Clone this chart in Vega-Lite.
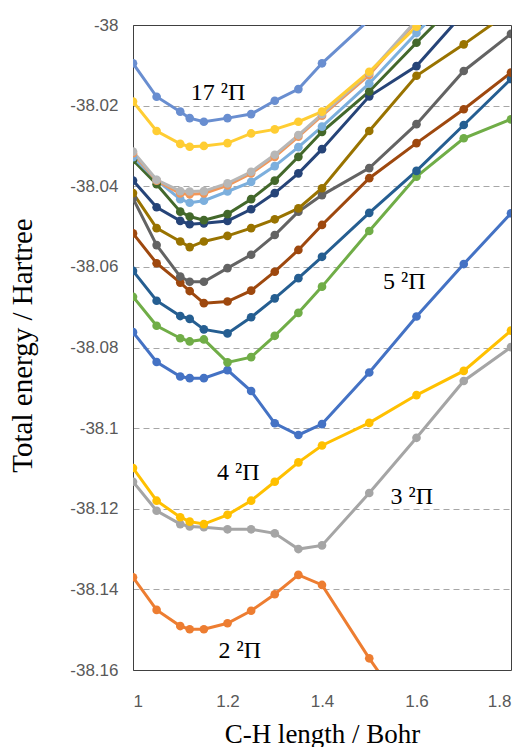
{
  "$schema": "https://vega.github.io/schema/vega-lite/v6.json",
  "width": 378,
  "height": 645,
  "autosize": {"type": "none"},
  "padding": {"left": 133, "top": 25, "right": 17, "bottom": 77},
  "background": "white",
  "config": {"view": {"stroke": "#404040", "strokeWidth": 1}},
  "datasets": {
    "curves": [
      {"s":"2","x":1,"y":-38.137},{"s":"2","x":1.05,"y":-38.1451},{"s":"2","x":1.1,"y":-38.1491},{"s":"2","x":1.12,"y":-38.1499},{"s":"2","x":1.15,"y":-38.1499},{"s":"2","x":1.2,"y":-38.1484},{"s":"2","x":1.25,"y":-38.1453},{"s":"2","x":1.3,"y":-38.1412},{"s":"2","x":1.35,"y":-38.1364},{"s":"2","x":1.4,"y":-38.1389},{"s":"2","x":1.5,"y":-38.1571},{"s":"2","x":1.6,"y":-38.174},
      {"s":"3","x":1,"y":-38.1133},{"s":"3","x":1.05,"y":-38.1205},{"s":"3","x":1.1,"y":-38.1238},{"s":"3","x":1.12,"y":-38.1244},{"s":"3","x":1.15,"y":-38.1246},{"s":"3","x":1.2,"y":-38.1251},{"s":"3","x":1.25,"y":-38.1251},{"s":"3","x":1.3,"y":-38.1261},{"s":"3","x":1.35,"y":-38.13},{"s":"3","x":1.4,"y":-38.1291},{"s":"3","x":1.5,"y":-38.1161},{"s":"3","x":1.6,"y":-38.1024},{"s":"3","x":1.7,"y":-38.0883},{"s":"3","x":1.8,"y":-38.0799},
      {"s":"4","x":1,"y":-38.1099},{"s":"4","x":1.05,"y":-38.118},{"s":"4","x":1.1,"y":-38.1221},{"s":"4","x":1.12,"y":-38.1232},{"s":"4","x":1.15,"y":-38.1238},{"s":"4","x":1.2,"y":-38.1215},{"s":"4","x":1.25,"y":-38.118},{"s":"4","x":1.3,"y":-38.1133},{"s":"4","x":1.35,"y":-38.1085},{"s":"4","x":1.4,"y":-38.1043},{"s":"4","x":1.5,"y":-38.0987},{"s":"4","x":1.6,"y":-38.0918},{"s":"4","x":1.7,"y":-38.0858},{"s":"4","x":1.8,"y":-38.0758},
      {"s":"5","x":1,"y":-38.0762},{"s":"5","x":1.05,"y":-38.0836},{"s":"5","x":1.1,"y":-38.0872},{"s":"5","x":1.12,"y":-38.0876},{"s":"5","x":1.15,"y":-38.0876},{"s":"5","x":1.2,"y":-38.0856},{"s":"5","x":1.25,"y":-38.0908},{"s":"5","x":1.3,"y":-38.0988},{"s":"5","x":1.35,"y":-38.1017},{"s":"5","x":1.4,"y":-38.099},{"s":"5","x":1.5,"y":-38.0862},{"s":"5","x":1.6,"y":-38.0723},{"s":"5","x":1.7,"y":-38.0593},{"s":"5","x":1.8,"y":-38.0467},
      {"s":"6","x":1,"y":-38.0674},{"s":"6","x":1.05,"y":-38.0746},{"s":"6","x":1.1,"y":-38.0777},{"s":"6","x":1.12,"y":-38.0785},{"s":"6","x":1.15,"y":-38.078},{"s":"6","x":1.2,"y":-38.0837},{"s":"6","x":1.25,"y":-38.0824},{"s":"6","x":1.3,"y":-38.0771},{"s":"6","x":1.35,"y":-38.0714},{"s":"6","x":1.4,"y":-38.0649},{"s":"6","x":1.5,"y":-38.0511},{"s":"6","x":1.6,"y":-38.0376},{"s":"6","x":1.7,"y":-38.0281},{"s":"6","x":1.8,"y":-38.0234},
      {"s":"7","x":1,"y":-38.061},{"s":"7","x":1.05,"y":-38.0684},{"s":"7","x":1.1,"y":-38.0722},{"s":"7","x":1.12,"y":-38.0729},{"s":"7","x":1.15,"y":-38.0755},{"s":"7","x":1.2,"y":-38.0765},{"s":"7","x":1.25,"y":-38.0725},{"s":"7","x":1.3,"y":-38.0678},{"s":"7","x":1.35,"y":-38.0628},{"s":"7","x":1.4,"y":-38.0575},{"s":"7","x":1.5,"y":-38.0466},{"s":"7","x":1.6,"y":-38.0362},{"s":"7","x":1.7,"y":-38.0248},{"s":"7","x":1.8,"y":-38.0134},
      {"s":"8","x":1,"y":-38.0517},{"s":"8","x":1.05,"y":-38.0591},{"s":"8","x":1.1,"y":-38.0639},{"s":"8","x":1.12,"y":-38.066},{"s":"8","x":1.15,"y":-38.069},{"s":"8","x":1.2,"y":-38.0686},{"s":"8","x":1.25,"y":-38.0659},{"s":"8","x":1.3,"y":-38.0612},{"s":"8","x":1.35,"y":-38.0558},{"s":"8","x":1.4,"y":-38.0496},{"s":"8","x":1.5,"y":-38.038},{"s":"8","x":1.6,"y":-38.0293},{"s":"8","x":1.7,"y":-38.0209},{"s":"8","x":1.8,"y":-38.0118},
      {"s":"9","x":1,"y":-38.043},{"s":"9","x":1.05,"y":-38.0546},{"s":"9","x":1.1,"y":-38.0624},{"s":"9","x":1.12,"y":-38.0637},{"s":"9","x":1.15,"y":-38.0637},{"s":"9","x":1.2,"y":-38.0603},{"s":"9","x":1.25,"y":-38.057},{"s":"9","x":1.3,"y":-38.0521},{"s":"9","x":1.35,"y":-38.0463},{"s":"9","x":1.4,"y":-38.0422},{"s":"9","x":1.5,"y":-38.0355},{"s":"9","x":1.6,"y":-38.0246},{"s":"9","x":1.7,"y":-38.0114},{"s":"9","x":1.8,"y":-38.0022},
      {"s":"10","x":1,"y":-38.0417},{"s":"10","x":1.05,"y":-38.0504},{"s":"10","x":1.1,"y":-38.0537},{"s":"10","x":1.12,"y":-38.0551},{"s":"10","x":1.15,"y":-38.0537},{"s":"10","x":1.2,"y":-38.0523},{"s":"10","x":1.25,"y":-38.0504},{"s":"10","x":1.3,"y":-38.0482},{"s":"10","x":1.35,"y":-38.0455},{"s":"10","x":1.4,"y":-38.0405},{"s":"10","x":1.5,"y":-38.0263},{"s":"10","x":1.6,"y":-38.0126},{"s":"10","x":1.7,"y":-38.0048},{"s":"10","x":1.8,"y":-37.9965},
      {"s":"11","x":1,"y":-38.0386},{"s":"11","x":1.05,"y":-38.0452},{"s":"11","x":1.1,"y":-38.0486},{"s":"11","x":1.12,"y":-38.0494},{"s":"11","x":1.15,"y":-38.0492},{"s":"11","x":1.2,"y":-38.0486},{"s":"11","x":1.25,"y":-38.0457},{"s":"11","x":1.3,"y":-38.0417},{"s":"11","x":1.35,"y":-38.0368},{"s":"11","x":1.4,"y":-38.0308},{"s":"11","x":1.5,"y":-38.0177},{"s":"11","x":1.6,"y":-38.0102},{"s":"11","x":1.7,"y":-37.997},
      {"s":"12","x":1,"y":-38.0335},{"s":"12","x":1.05,"y":-38.0395},{"s":"12","x":1.1,"y":-38.0463},{"s":"12","x":1.12,"y":-38.0475},{"s":"12","x":1.15,"y":-38.0484},{"s":"12","x":1.2,"y":-38.0469},{"s":"12","x":1.25,"y":-38.0432},{"s":"12","x":1.3,"y":-38.0386},{"s":"12","x":1.35,"y":-38.0327},{"s":"12","x":1.4,"y":-38.0265},{"s":"12","x":1.5,"y":-38.0165},{"s":"12","x":1.6,"y":-38.0044},{"s":"12","x":1.7,"y":-37.9926},
      {"s":"13","x":1,"y":-38.0328},{"s":"13","x":1.05,"y":-38.0385},{"s":"13","x":1.1,"y":-38.0432},{"s":"13","x":1.12,"y":-38.0441},{"s":"13","x":1.15,"y":-38.0436},{"s":"13","x":1.2,"y":-38.0413},{"s":"13","x":1.25,"y":-38.0389},{"s":"13","x":1.3,"y":-38.035},{"s":"13","x":1.35,"y":-38.0303},{"s":"13","x":1.4,"y":-38.0252},{"s":"13","x":1.5,"y":-38.0145},{"s":"13","x":1.6,"y":-38.002},{"s":"13","x":1.7,"y":-37.99},
      {"s":"14","x":1,"y":-38.0318},{"s":"14","x":1.05,"y":-38.0386},{"s":"14","x":1.1,"y":-38.0418},{"s":"14","x":1.12,"y":-38.042},{"s":"14","x":1.15,"y":-38.0418},{"s":"14","x":1.2,"y":-38.0398},{"s":"14","x":1.25,"y":-38.0368},{"s":"14","x":1.3,"y":-38.0327},{"s":"14","x":1.35,"y":-38.0277},{"s":"14","x":1.4,"y":-38.0225},{"s":"14","x":1.5,"y":-38.0124},{"s":"14","x":1.6,"y":-37.999},
      {"s":"15","x":1,"y":-38.0314},{"s":"15","x":1.05,"y":-38.0384},{"s":"15","x":1.1,"y":-38.0412},{"s":"15","x":1.12,"y":-38.0413},{"s":"15","x":1.15,"y":-38.0412},{"s":"15","x":1.2,"y":-38.0393},{"s":"15","x":1.25,"y":-38.0364},{"s":"15","x":1.3,"y":-38.0322},{"s":"15","x":1.35,"y":-38.0273},{"s":"15","x":1.4,"y":-38.0221},{"s":"15","x":1.5,"y":-38.0119},{"s":"15","x":1.6,"y":-37.9988},
      {"s":"16","x":1,"y":-38.019},{"s":"16","x":1.05,"y":-38.0263},{"s":"16","x":1.1,"y":-38.0295},{"s":"16","x":1.12,"y":-38.0302},{"s":"16","x":1.15,"y":-38.03},{"s":"16","x":1.2,"y":-38.0293},{"s":"16","x":1.25,"y":-38.0269},{"s":"16","x":1.3,"y":-38.0259},{"s":"16","x":1.35,"y":-38.024},{"s":"16","x":1.4,"y":-38.0215},{"s":"16","x":1.5,"y":-38.0116},{"s":"16","x":1.6,"y":-38.0004},
      {"s":"17","x":1,"y":-38.0095},{"s":"17","x":1.05,"y":-38.0178},{"s":"17","x":1.1,"y":-38.0215},{"s":"17","x":1.12,"y":-38.0231},{"s":"17","x":1.15,"y":-38.024},{"s":"17","x":1.2,"y":-38.0231},{"s":"17","x":1.25,"y":-38.0221},{"s":"17","x":1.3,"y":-38.0188},{"s":"17","x":1.35,"y":-38.0159},{"s":"17","x":1.4,"y":-38.0095},{"s":"17","x":1.5,"y":-37.9987}
    ],
    "labels": [
      {"x":1.18,"y":-38.0169,"t":"17 ²Π"},
      {"x":1.574,"y":-38.0637,"t":"5 ²Π"},
      {"x":1.223,"y":-38.1111,"t":"4 ²Π"},
      {"x":1.59,"y":-38.117,"t":"3 ²Π"},
      {"x":1.226,"y":-38.1553,"t":"2 ²Π"}
    ]
  },
  "encoding": {
    "x": {
      "field": "x", "type": "quantitative",
      "scale": {"domain": [1, 1.8], "nice": false, "zero": false},
      "axis": {
        "values": [1, 1.2, 1.4, 1.6, 1.8],
        "labelExpr": "format(datum.value, '~g')",
        "grid": false, "ticks": false, "domain": false,
        "labelFont": "Liberation Sans", "labelFontSize": 17, "labelColor": "#595959",
        "labelPadding": 23,
        "title": "C-H length / Bohr",
        "titleFont": "Liberation Serif", "titleFontSize": 27, "titleFontWeight": "normal", "titleColor": "black",
        "titleY": 51, "titleBaseline": "top"
      }
    },
    "y": {
      "field": "y", "type": "quantitative",
      "scale": {"domain": [-38.16, -38], "nice": false, "zero": false},
      "axis": {
        "values": [-38.16, -38.14, -38.12, -38.1, -38.08, -38.06, -38.04, -38.02, -38],
        "labelExpr": "'-' + format(-datum.value, '.4~r')",
        "grid": true, "gridDash": [6, 4], "gridColor": "#a6a6a6", "gridWidth": 1,
        "gridOpacity": {"condition": {"test": "datum.value == -38 || datum.value == -38.16", "value": 0}, "value": 1},
        "ticks": false, "domain": true, "domainColor": "#404040",
        "labelFont": "Liberation Sans", "labelFontSize": 17, "labelColor": "#595959",
        "labelPadding": 15,
        "title": "Total energy / Hartree",
        "titleFont": "Liberation Serif", "titleFontSize": 29, "titleFontWeight": "normal", "titleColor": "black",
        "titleAngle": -90, "titleX": -111, "titleY": 320, "titleBaseline": "middle", "titleAlign": "center"
      }
    }
  },
  "layer": [
    {
      "data": {"name": "curves"},
      "mark": {"type": "line", "clip": true, "strokeWidth": 3},
      "encoding": {
        "color": {
          "field": "s", "type": "nominal", "legend": null,
          "scale": {
            "domain": ["2","3","4","5","6","7","8","9","10","11","12","13","14","15","16","17"],
            "range": ["#ED7D31","#A5A5A5","#FFC000","#4472C4","#70AD47","#255E91","#9E480E","#636363","#997300","#264478","#43682B","#7CAFDD","#F1975A","#B7B7B7","#FFCD33","#698ED0"]
          }
        },
        "order": {"field": "x", "type": "quantitative"}
      }
    },
    {
      "data": {"name": "curves"},
      "mark": {"type": "point", "clip": true, "filled": true, "size": 75, "opacity": 1},
      "encoding": {
        "color": {"field": "s", "type": "nominal", "legend": null}
      }
    },
    {
      "data": {"name": "labels"},
      "mark": {"type": "text", "font": "Liberation Serif", "fontSize": 24, "color": "black", "align": "center", "baseline": "middle"},
      "encoding": {"text": {"field": "t", "type": "nominal"}}
    }
  ]
}
